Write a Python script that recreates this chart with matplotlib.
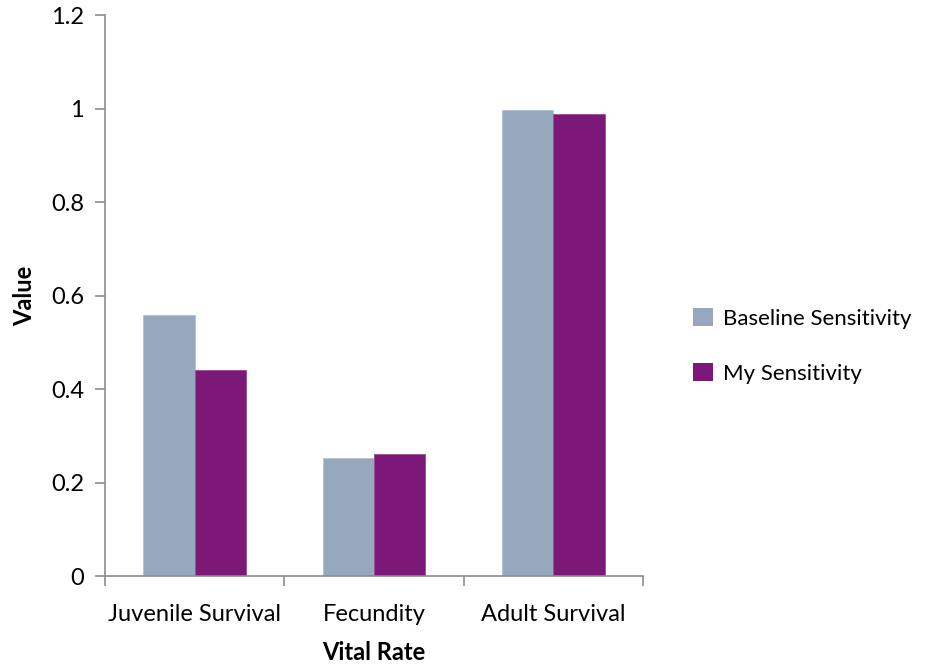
import numpy as np
import matplotlib
matplotlib.use("Agg")
import matplotlib.pyplot as plt
from matplotlib.patches import Patch

plt.rcParams.update({
    "font.family": ["Lato", "DejaVu Sans"],
    "font.size": 17,
})

categories = ["Juvenile Survival", "Fecundity", "Adult Survival"]
baseline = [0.558, 0.252, 0.997]
mine = [0.440, 0.260, 0.988]
series_names = ["Baseline Sensitivity", "My Sensitivity"]

BASE_C = "#95A8BE"
MY_C = "#7B1878"
AXIS_C = "#8C8C8C"

fig = plt.figure(figsize=(9.25, 6.65), dpi=100)
ax = fig.add_axes([0.1135, 0.1338, 0.5816, 0.8436])

x = np.arange(len(categories))
w = 0.286
ax.bar(x - w / 2, baseline, w, color=BASE_C, edgecolor="#B4C2D3", lw=0.6)
ax.bar(x + w / 2, mine, w, color=MY_C, edgecolor="#9A4C97", lw=0.6)

ax.set_xlim(-0.5, len(categories) - 0.5)
ax.set_ylim(0, 1.2)
ax.set_yticks([0, 0.2, 0.4, 0.6, 0.8, 1.0, 1.2])
ax.set_yticklabels(["0", "0.2", "0.4", "0.6", "0.8", "1", "1.2"])
ax.set_xticks(np.arange(-0.5, len(categories), 1.0))
ax.set_xticklabels([])
ax.set_xticks(x, minor=True)
ax.set_xticklabels(categories, minor=True)
ax.tick_params(axis="x", which="minor", length=0, pad=20)
ax.tick_params(axis="x", which="major", length=7, color=AXIS_C, width=1.2)
ax.tick_params(axis="y", length=7, color=AXIS_C, width=1.2, pad=8)

for s in ["top", "right"]:
    ax.spines[s].set_visible(False)
for s in ["left", "bottom"]:
    ax.spines[s].set_color(AXIS_C)
    ax.spines[s].set_linewidth(1.2)

ax.set_xlabel("Vital Rate", fontweight="bold", labelpad=12)
ax.set_ylabel("Value", fontweight="bold")
ax.yaxis.set_label_coords(-0.128, 0.5)

handles = [Patch(facecolor=BASE_C), Patch(facecolor=MY_C)]
fig.legend(handles, series_names, loc="center left", bbox_to_anchor=(0.749, 0.48),
           frameon=False, fontsize=16, handlelength=0.9, handleheight=0.9,
           handletextpad=0.45, labelspacing=1.55, borderpad=0, borderaxespad=0)

fig.savefig("out.png", dpi=100)
